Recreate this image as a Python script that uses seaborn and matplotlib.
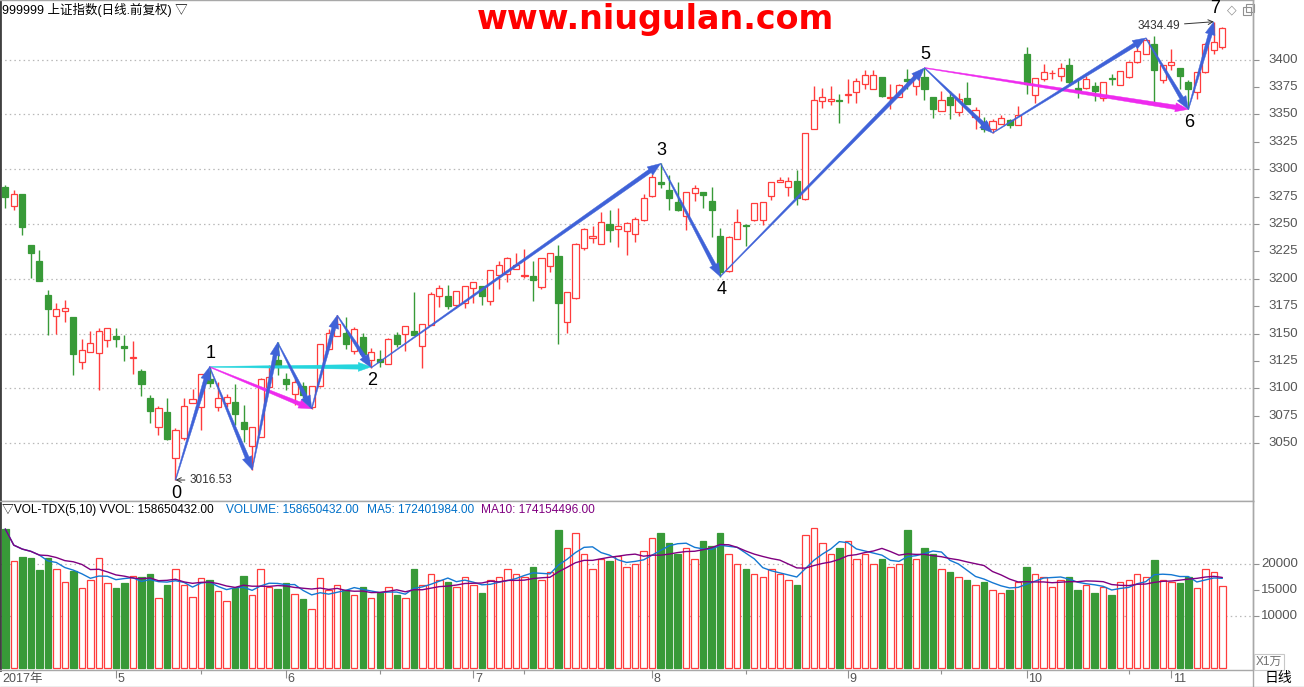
import matplotlib
matplotlib.use("Agg")
import matplotlib.pyplot as plt
from matplotlib.patches import Polygon, Rectangle
import numpy as np
import pandas as pd
import seaborn as sns

# daily bars 2017-04-12 .. 2017-11-09, index 0..143
opens = [3284.2, 3266.1, 3277.3, 3230.9, 3216.4, 3185.4, 3166.1, 3170.6, 3165.4, 3124.2,
         3133.3, 3132.4, 3144.2, 3147.9, 3138.8, 3127.9, 3115.7, 3090.9, 3065.1, 3078.8,
         3036.9, 3055.1, 3087.0, 3083.0, 3109.1, 3083.0, 3087.0, 3087.9, 3069.7, 3047.9,
         3056.1, 3101.5, 3125.7, 3109.1, 3095.4, 3102.4, 3083.3, 3102.4, 3136.4, 3147.9,
         3150.9, 3133.9, 3147.0, 3125.8, 3127.3, 3122.1, 3149.1, 3149.4, 3152.4, 3138.5,
         3157.6, 3183.9, 3184.5, 3175.8, 3177.9, 3192.1, 3193.3, 3179.4, 3203.6, 3204.2,
         3209.1, 3203.0, 3202.4, 3193.0, 3212.1, 3220.6, 3160.3, 3182.4, 3227.9, 3237.0,
         3231.5, 3249.7, 3245.2, 3243.9, 3240.6, 3253.3, 3275.2, 3288.5, 3280.6, 3269.7,
         3257.6, 3278.2, 3278.8, 3270.6, 3239.4, 3207.0, 3236.1, 3249.1, 3254.0, 3254.0,
         3275.2, 3287.9, 3284.2, 3288.8, 3272.4, 3337.0, 3362.4, 3362.1, 3363.0, 3367.3,
         3370.6, 3377.9, 3373.3, 3384.2, 3364.8, 3366.1, 3382.4, 3375.5, 3384.2, 3366.1,
         3353.3, 3366.1, 3352.3, 3365.2, 3347.6, 3343.0, 3336.4, 3341.6, 3344.6, 3340.6,
         3404.6, 3367.3, 3382.5, 3387.4, 3384.9, 3394.6, 3374.3, 3374.3, 3375.5, 3364.6,
         3383.4, 3377.0, 3384.3, 3397.6, 3405.2, 3414.6, 3380.9, 3394.6, 3392.5, 3379.4,
         3370.3, 3388.8, 3409.1, 3411.6]
highs = [3285.4, 3280.9, 3277.5, 3230.9, 3226.4, 3190.0, 3177.9, 3180.6, 3165.4, 3145.4,
         3152.4, 3155.4, 3155.1, 3155.4, 3149.1, 3143.3, 3118.2, 3094.5, 3084.2, 3091.5,
         3063.6, 3090.9, 3099.1, 3113.0, 3119.7, 3106.1, 3095.4, 3104.5, 3084.9, 3065.1,
         3110.0, 3121.2, 3142.0, 3114.5, 3109.1, 3106.0, 3102.4, 3141.0, 3154.0, 3166.7,
         3165.2, 3156.1, 3150.6, 3137.0, 3134.8, 3146.0, 3151.5, 3157.0, 3187.9, 3159.1,
         3187.9, 3194.0, 3194.5, 3188.8, 3193.3, 3197.0, 3193.3, 3208.2, 3216.1, 3219.7,
         3223.6, 3227.3, 3216.1, 3218.8, 3223.3, 3230.9, 3188.0, 3232.4, 3246.0, 3247.9,
         3260.6, 3262.4, 3264.2, 3252.1, 3256.1, 3277.3, 3295.5, 3305.2, 3294.5, 3287.9,
         3279.4, 3285.5, 3278.8, 3283.9, 3246.4, 3239.4, 3263.6, 3250.0, 3268.8, 3269.7,
         3288.0, 3293.3, 3293.3, 3299.1, 3333.0, 3375.8, 3374.2, 3375.8, 3368.2, 3381.8,
         3383.3, 3390.9, 3390.9, 3384.2, 3377.3, 3377.3, 3391.5, 3386.4, 3392.4, 3366.1,
         3371.2, 3371.2, 3369.7, 3379.4, 3357.0, 3348.0, 3346.0, 3349.1, 3346.0, 3357.6,
         3411.6, 3383.4, 3395.5, 3390.9, 3396.4, 3401.6, 3383.4, 3384.9, 3379.7, 3379.7,
         3386.4, 3389.4, 3398.5, 3410.6, 3419.7, 3421.9, 3394.6, 3409.7, 3392.5, 3381.2,
         3388.8, 3415.0, 3434.49, 3429.7]
lows = [3264.2, 3263.0, 3240.3, 3200.6, 3197.6, 3148.5, 3149.4, 3160.6, 3112.1, 3118.2,
        3133.3, 3098.5, 3137.6, 3137.6, 3124.9, 3113.0, 3093.0, 3068.2, 3057.6, 3053.0,
        3016.53, 3053.0, 3087.0, 3062.1, 3101.5, 3079.4, 3083.0, 3066.7, 3051.5, 3026.0,
        3056.0, 3101.5, 3112.1, 3098.5, 3084.9, 3090.9, 3081.5, 3101.0, 3136.0, 3147.9,
        3136.4, 3131.8, 3130.3, 3119.0, 3119.7, 3122.0, 3137.9, 3133.9, 3148.5, 3119.1,
        3157.6, 3174.2, 3172.7, 3173.3, 3173.3, 3178.2, 3175.8, 3175.8, 3190.3, 3196.7,
        3209.0, 3200.6, 3179.4, 3190.9, 3206.1, 3140.3, 3150.9, 3181.8, 3226.7, 3232.7,
        3231.5, 3233.9, 3229.4, 3222.1, 3233.9, 3252.4, 3275.0, 3283.3, 3263.0, 3262.1,
        3244.8, 3271.2, 3264.5, 3237.9, 3202.1, 3206.0, 3236.0, 3230.3, 3253.0, 3249.4,
        3272.1, 3287.9, 3275.8, 3267.6, 3272.0, 3337.0, 3355.5, 3358.5, 3342.4, 3360.0,
        3360.6, 3373.3, 3373.3, 3366.0, 3355.2, 3366.0, 3372.7, 3367.3, 3363.0, 3346.7,
        3353.0, 3345.5, 3348.5, 3359.7, 3337.0, 3334.0, 3333.0, 3341.0, 3338.0, 3340.0,
        3368.2, 3360.6, 3380.4, 3381.9, 3380.4, 3377.3, 3365.2, 3373.0, 3362.2, 3362.2,
        3376.4, 3376.4, 3383.4, 3397.0, 3405.0, 3359.1, 3378.2, 3390.9, 3372.8, 3354.6,
        3363.7, 3388.0, 3404.6, 3409.7]
closes = [3274.8, 3277.3, 3247.6, 3223.3, 3197.6, 3172.1, 3172.4, 3173.3, 3131.2, 3135.1,
          3141.5, 3152.4, 3155.1, 3144.9, 3136.7, 3128.5, 3103.9, 3079.4, 3081.8, 3053.9,
          3062.1, 3083.9, 3090.6, 3113.0, 3105.4, 3090.9, 3091.8, 3076.7, 3063.0, 3065.1,
          3109.1, 3110.6, 3119.7, 3104.2, 3106.1, 3093.9, 3102.4, 3140.9, 3150.9, 3159.1,
          3140.9, 3154.0, 3131.8, 3133.3, 3124.2, 3145.5, 3140.9, 3157.0, 3148.5, 3159.1,
          3186.1, 3191.8, 3174.8, 3188.8, 3193.3, 3197.0, 3183.9, 3208.2, 3213.0, 3218.8,
          3213.0, 3203.5, 3198.5, 3218.8, 3223.3, 3177.6, 3187.9, 3231.5, 3245.2, 3238.8,
          3251.5, 3244.8, 3247.9, 3250.6, 3254.2, 3273.3, 3293.3, 3286.7, 3274.0, 3263.0,
          3279.4, 3282.4, 3276.7, 3263.0, 3206.1, 3237.9, 3251.5, 3247.9, 3268.8, 3269.7,
          3287.9, 3290.6, 3288.8, 3273.3, 3332.7, 3363.3, 3366.1, 3364.2, 3362.4, 3368.2,
          3380.6, 3385.5, 3386.1, 3366.7, 3366.1, 3377.0, 3380.6, 3385.5, 3373.0, 3354.8,
          3363.3, 3358.5, 3364.0, 3359.7, 3354.0, 3337.0, 3344.0, 3346.4, 3340.6, 3349.4,
          3377.3, 3383.4, 3388.8, 3388.0, 3391.9, 3379.4, 3371.9, 3382.5, 3371.2, 3379.7,
          3382.5, 3389.1, 3397.9, 3407.6, 3418.2, 3390.9, 3394.6, 3397.6, 3384.9, 3372.8,
          3388.8, 3414.6, 3416.4, 3428.8]
# volume, unit 1万
volumes = [26730, 20520, 21350, 21150, 18850, 21150, 18970, 16470, 18650, 15320,
           16860, 21090, 16280, 15380, 16410, 17640, 17500, 18080, 13400, 15960,
           18970, 15900, 13590, 17250, 16920, 14740, 12880, 15380, 17690, 13970,
           18970, 15510, 15190, 16410, 14170, 13270, 11280, 17250, 15060, 16000,
           15000, 14000, 15500, 13500, 14500, 15500, 14000, 13500, 19000, 16000,
           18000, 17000, 16500, 15500, 17500, 16000, 14500, 17000, 17500, 19000,
           18000, 17500, 19500, 17000, 18500, 26500, 23000, 26000, 22000, 19000,
           21000, 20500, 21500, 19500, 20000, 22500, 25000, 26000, 24000, 22000,
           23000, 21000, 24500, 23500, 26000, 22000, 20000, 19000, 18000, 17500,
           19000, 18000, 17000, 16000, 25500, 27000, 24000, 22000, 23000, 24500,
           21000, 22000, 20000, 21000, 19500, 20000, 26500, 21000, 23000, 22000,
           19000, 18500, 17500, 17000, 16000, 16500, 15000, 14500, 15000, 16500,
           19500, 18000, 17500, 15500, 17000, 17500, 15000, 16000, 14500, 15500,
           14000, 16500, 17000, 18000, 17500, 20700, 17000, 16500, 16255, 17500,
           15455, 18980, 18400, 15865]

month_idx = [13, 33, 55, 76, 99, 120, 137]
month_lbl = ["5", "6", "7", "8", "9", "10", "11"]
mid_idx = [23, 44, 61, 87, 110, 132]

# zigzag pivots (bar index, high/low)
pivots = [(20, "L"), (24, "H"), (29, "L"), (32, "H"), (36, "L"), (39, "H"), (43, "L"),
          (77, "H"), (84, "L"), (108, "H"), (116, "L"), (134, "H"), (139, "L"), (142, "H")]
pivot_names = {0: "0", 1: "1", 6: "2", 7: "3", 8: "4", 9: "5", 12: "6", 13: "7"}

df = pd.DataFrame({"open": opens, "high": highs, "low": lows, "close": closes, "vol": volumes})
df["idx"] = np.arange(len(df))
df["up"] = df["close"] >= df["open"]
df["ma5"] = df["vol"].rolling(5, min_periods=1).mean()
df["ma10"] = df["vol"].rolling(10, min_periods=1).mean()

sns.set_style("white")
plt.rcParams["font.family"] = ["Liberation Sans", "Noto Sans CJK SC", "DejaVu Sans"]

RED = "#FF3C3C"
GREEN = "#389A38"
BLUE = "#3F62D8"
GRID = "#B8B8B8"
W, H = 1304, 687

fig = plt.figure(figsize=(W / 100, H / 100), dpi=100, facecolor="white")
AXW = 1253 / W
ax_p = fig.add_axes([0, (H - 501) / H, AXW, 501 / H])
ax_v = fig.add_axes([0, (H - 670) / H, AXW, 169 / H])

xlim = (-0.62, 146.6)
for ax in (ax_p, ax_v):
    ax.set_xlim(*xlim)
    ax.set_facecolor("white")
    ax.set_xticks([])
    for s in ("top", "right", "bottom"):
        ax.spines[s].set_color("#A8A8A8")
        ax.spines[s].set_linewidth(1)
    ax.spines["left"].set_color("#404040")
    ax.spines["left"].set_linewidth(2)
ax_p.set_ylim(2997.4, 3454.3)
ax_v.set_ylim(-385, 32115)

# price grid + ticks
for p in range(3050, 3401, 50):
    ax_p.axhline(p, color=GRID, lw=0.9, ls=(0, (1.2, 2.5)), zorder=0)
ax_p.yaxis.tick_right()
ax_p.set_yticks(range(3050, 3401, 25))
ax_p.tick_params(axis="y", length=4, width=0.8, color="#909090", labelright=False, direction="out")
for p in range(3050, 3401, 25):
    ax_p.text(1298 / 1253, p, str(p), transform=ax_p.get_yaxis_transform(), ha="right",
              va="center", fontsize=9.5, color="#555555", clip_on=False)

# candles
bw = 0.72
cols = np.where(df["up"], RED, GREEN)
ax_p.vlines(df["idx"], df["low"], df["high"], colors=cols, lw=1.0, zorder=2)
body_lo = df[["open", "close"]].min(axis=1)
body_h = (df["close"] - df["open"]).abs().clip(lower=0.7)
ax_p.bar(df["idx"], body_h, bottom=body_lo, width=bw,
         color=np.where(df["up"], "white", GREEN), edgecolor=cols, lw=0.9, zorder=3)


def taper_arrow(ax, x0, y0, x1, y1, color, w_end=4.0, head_w=10.0, head_l=13.0, w_start=0.8):
    p0 = ax.transData.transform((x0, y0))
    p1 = ax.transData.transform((x1, y1))
    d = p1 - p0
    u = d / np.hypot(*d)
    n = np.array([-u[1], u[0]])
    base = p1 - u * head_l
    pts = [p0 + n * w_start / 2, base + n * w_end / 2, base + n * head_w / 2, p1,
           base - n * head_w / 2, base - n * w_end / 2, p0 - n * w_start / 2]
    pts = ax.transData.inverted().transform(np.array(pts))
    ax.add_patch(Polygon(pts, closed=True, facecolor=color, edgecolor=color, lw=0.3, zorder=6))


def pval(i, kind):
    return highs[i] if kind == "H" else lows[i]


pts = [(i, pval(i, k)) for i, k in pivots]
# cyan and magenta arrows
taper_arrow(ax_p, pts[1][0], pts[1][1], pts[6][0], pts[1][1], "#25D5DD", w_end=4.5, head_w=9)
taper_arrow(ax_p, pts[1][0], pts[1][1], pts[4][0], pts[4][1], "#EE2AEE", w_end=4, head_w=9)
taper_arrow(ax_p, pts[9][0], pts[9][1], pts[12][0], pts[12][1], "#EE2AEE", w_end=4.5, head_w=9)
# blue zigzag
for (xa, ya), (xb, yb) in zip(pts[:-1], pts[1:]):
    taper_arrow(ax_p, xa, ya, xb, yb, BLUE)

for k, name in pivot_names.items():
    i, kind = pivots[k]
    off = 13 if kind == "H" else -13
    ax_p.annotate(name, xy=(i, pval(i, kind)), xytext=(1, off), textcoords="offset pixels",
                  ha="center", va="center", fontsize=13, color="black", zorder=8)

ax_p.annotate("3016.53", xy=(20, lows[20]), xytext=(14, 0), textcoords="offset pixels",
              ha="left", va="center", fontsize=8.5, color="#333333",
              arrowprops=dict(arrowstyle="->", lw=0.7, color="#333333", shrinkA=1, shrinkB=0))
ax_p.annotate("3434.49", xy=(142, highs[142]), xytext=(-34, -4), textcoords="offset pixels",
              ha="right", va="center", fontsize=8.5, color="#333333",
              arrowprops=dict(arrowstyle="->", lw=0.7, color="#333333", shrinkA=1, shrinkB=0))

# volume panel
for v in (10000, 20000):
    ax_v.axhline(v, color=GRID, lw=0.9, ls=(0, (1.2, 2.5)), zorder=0)
ax_v.yaxis.tick_right()
ax_v.set_yticks([10000, 15000, 20000])
ax_v.tick_params(axis="y", length=4, width=0.8, color="#909090", labelright=False, direction="out")
for v in (10000, 15000, 20000):
    ax_v.text(1298 / 1253, v, str(v), transform=ax_v.get_yaxis_transform(), ha="right",
              va="center", fontsize=9.5, color="#555555", clip_on=False)
ax_v.bar(df["idx"], df["vol"], width=0.76, color=np.where(df["up"], "white", GREEN),
         edgecolor=cols, lw=0.9, zorder=2)
sns.lineplot(x=df["idx"], y=df["ma5"], ax=ax_v, color="#1478D2", lw=1.0, zorder=4)
sns.lineplot(x=df["idx"], y=df["ma10"], ax=ax_v, color="#800080", lw=1.0, zorder=4)
ax_v.set_xlabel("")
ax_v.set_ylabel("")
ax_v.set_xlim(*xlim)


def ftext(x, y, s, **kw):
    fig.text(x / W, 1 - y / H, s, **kw)


ftext(2, 10, "999999 上证指数(日线.前复权) ▽", fontsize=9, va="center", color="black")
ftext(655, 19, "www.niugulan.com", fontsize=24, va="center", ha="center", color="#FF0000",
      fontweight="bold", family="DejaVu Sans")
ftext(1232, 10, "◇", fontsize=9, va="center", ha="center", color="#909090", family="DejaVu Sans")
fig.add_artist(Rectangle((1243 / W, 1 - 15 / H), 8 / W, 8 / H, transform=fig.transFigure,
                         fill=False, ec="#909090", lw=0.8))
fig.add_artist(Rectangle((1246 / W, 1 - 12 / H), 8 / W, 8 / H, transform=fig.transFigure,
                         fill=False, ec="#909090", lw=0.8))
ftext(2, 510, "▽VOL-TDX(5,10) VVOL: 158650432.00", fontsize=8.6, va="center", color="black")
ftext(226, 510, "VOLUME: 158650432.00", fontsize=8.6, va="center", color="#0070C8")
ftext(367, 510, "MA5: 172401984.00", fontsize=8.6, va="center", color="#0070C8")
ftext(481, 510, "MA10: 174154496.00", fontsize=8.6, va="center", color="#800080")
ftext(1256, 662, "X1万", fontsize=8.5, va="center", ha="left", color="#707070",
      bbox=dict(boxstyle="square,pad=0.15", fc="white", ec="#C8C8C8", lw=0.8))

# date strip
ax_d = fig.add_axes([0, 0, AXW, 17 / H])
ax_d.set_xlim(*xlim)
ax_d.set_ylim(0, 1)
ax_d.axis("off")
for i, lbl in zip(month_idx, month_lbl):
    ax_d.vlines(i, 0.55, 1, color="#909090", lw=0.8)
    ax_d.text(i + 0.2, 0.45, lbl, ha="left", va="center", fontsize=9, color="#555555")
ax_d.vlines(mid_idx, 0.75, 1, color="#909090", lw=0.8)
ax_d.text(xlim[0] + 0.3, 0.45, "2017年", ha="left", va="center", fontsize=9, color="#555555")
ftext(1278, 678, "日线", fontsize=10, va="center", ha="center", color="black")
fig.add_artist(plt.Line2D([0, 1], [0.5 / H, 0.5 / H], transform=fig.transFigure, color="#A8A8A8", lw=1))
fig.add_artist(plt.Line2D([AXW, AXW], [0, 1], transform=fig.transFigure, color="#A8A8A8", lw=1))

fig.savefig("out.png", dpi=100, facecolor="white")
